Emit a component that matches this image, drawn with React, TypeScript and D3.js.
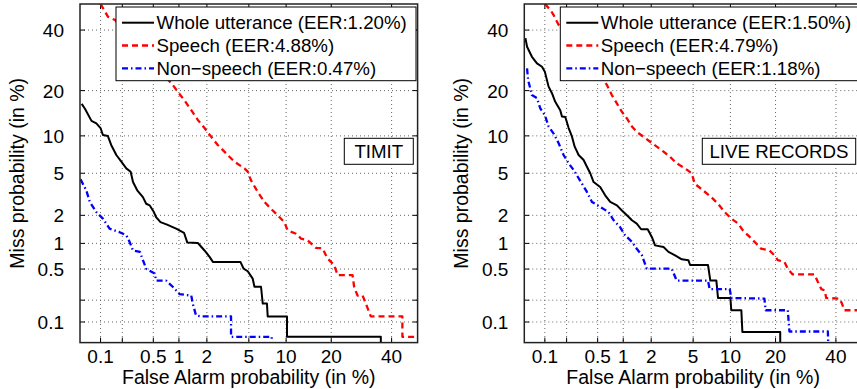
import React from "react";
import * as d3 from "d3";

// Axis ticks (percent)
const tickValues = [0.1, 0.2, 0.5, 1, 2, 5, 10, 20, 40];
const tickLabels = ["0.1", "", "0.5", "1", "2", "5", "10", "20", "40"];
const seriesNames = ["Whole utterance", "Speech", "Non\u2212speech"];
const timitEER = ["1.20", "4.88", "0.47"];
const liveEER = ["1.50", "4.79", "1.18"];

// [False alarm %, Miss %]
const timitWhole: number[][] = [
  [0.053, 16.6], [0.059, 15.5], [0.074, 12.8], [0.087, 12.3], [0.1, 11.4], [0.108, 10.15], [0.127, 9.97],
  [0.141, 8.54], [0.166, 7.11], [0.194, 6.27], [0.226, 5.51], [0.258, 5.16], [0.277, 4.18], [0.314, 3.51],
  [0.371, 3.03], [0.408, 2.61], [0.45, 2.52], [0.508, 2.16], [0.54, 1.92], [0.61, 1.7], [0.73, 1.6],
  [0.93, 1.45], [1.14, 1.31], [1.24, 1.02], [1.61, 1.01], [1.89, 0.83], [2.13, 0.7], [2.3, 0.61],
  [4.21, 0.61], [4.5, 0.505], [4.89, 0.47], [5.4, 0.38], [5.59, 0.3], [6.35, 0.3], [6.56, 0.18],
  [7.1, 0.18], [7.2, 0.12], [10.15, 0.12], [10.15, 0.061], [36, 0.061], [36, 0.04],
];
const timitSpeech: number[][] = [
  [0.1, 50], [0.112, 47.7], [0.127, 45.1], [0.16, 43.8], [0.85, 21.6], [0.97, 19.7], [1.15, 17.5],
  [1.37, 15.1], [1.61, 13.0], [1.89, 11.4], [2.21, 9.86], [2.57, 8.54], [3.09, 7.34], [3.71, 6.27],
  [4.57, 5.51], [4.89, 5.16], [5.22, 4.33], [5.96, 3.39], [6.77, 2.72], [7.65, 2.33], [8.63, 2.0],
  [9.7, 1.7], [10.26, 1.39], [11.8, 1.28], [12.8, 1.13], [14.2, 1.08], [16.1, 0.89], [17.7, 0.88],
  [19.0, 0.67], [20.8, 0.56], [21.8, 0.42], [26.3, 0.42], [26.8, 0.3], [27.9, 0.23], [29.6, 0.23],
  [30.7, 0.18], [32.4, 0.12], [44.1, 0.12], [44.1, 0.061], [50, 0.061],
];
const timitNonSpeech: number[][] = [
  [0.051, 4.42], [0.062, 3.51], [0.07, 2.72], [0.087, 2.16], [0.108, 1.85], [0.134, 1.45], [0.184, 1.33],
  [0.226, 1.23], [0.25, 1.04], [0.277, 0.83], [0.34, 0.8], [0.371, 0.64], [0.408, 0.505], [0.52, 0.44],
  [0.54, 0.36], [0.71, 0.36], [0.85, 0.3], [1.02, 0.24], [1.37, 0.23], [1.42, 0.18], [1.54, 0.124],
  [1.74, 0.12], [3.45, 0.12], [3.45, 0.061], [7.75, 0.061], [7.75, 0.052],
];
const liveWhole: number[][] = [
  [0.052, 37.0], [0.055, 33.9], [0.065, 30.4], [0.077, 28.2], [0.091, 27.1], [0.1, 25.5], [0.113, 21.1],
  [0.126, 19.3], [0.14, 17.1], [0.164, 15.1], [0.173, 13.7], [0.192, 13.6], [0.213, 11.4], [0.236, 9.86],
  [0.256, 8.28], [0.288, 7.11], [0.334, 6.47], [0.368, 5.69], [0.405, 5.0], [0.446, 4.18], [0.537, 3.77],
  [0.617, 3.15], [0.708, 2.72], [0.847, 2.52], [0.96, 2.25], [1.1, 2.0], [1.25, 1.78], [1.41, 1.64],
  [1.57, 1.43], [1.84, 1.43], [2.03, 1.18], [2.19, 0.95], [2.66, 0.91], [2.97, 0.8], [3.43, 0.73],
  [3.96, 0.655], [4.54, 0.64], [4.7, 0.56], [6.68, 0.56], [6.98, 0.36], [7.8, 0.36], [8.04, 0.214],
  [10.0, 0.214], [10.15, 0.146], [12.0, 0.146], [12.2, 0.072], [21.3, 0.072], [21.3, 0.04],
];
const liveSpeech: number[][] = [
  [0.1, 50], [0.12, 47.7], [0.133, 45.7], [0.156, 41.9], [0.59, 23.0], [0.646, 21.6], [0.74, 18.8],
  [0.847, 16.7], [0.96, 14.8], [1.1, 13.3], [1.25, 11.7], [1.41, 10.7], [1.66, 9.86], [1.95, 9.04],
  [2.28, 8.28], [2.66, 7.56], [3.07, 6.89], [3.55, 6.08], [4.24, 5.51], [4.86, 5.0], [5.16, 4.04],
  [6.07, 3.51], [7.11, 3.03], [8.04, 2.61], [9.04, 2.16], [10.15, 1.85], [11.4, 1.64], [12.3, 1.39],
  [13.7, 1.18], [15.2, 0.99], [16.3, 0.87], [18.4, 0.83], [19.7, 0.73], [20.6, 0.64], [22.5, 0.61],
  [23.5, 0.505], [25.0, 0.43], [32.2, 0.43], [33.4, 0.345], [34.6, 0.28], [35.8, 0.27], [36.4, 0.214],
  [41.3, 0.21], [42.3, 0.18], [43.2, 0.146], [50, 0.146],
];
const liveNonSpeech: number[][] = [
  [0.055, 26.6], [0.057, 23.0], [0.065, 18.8], [0.077, 18.0], [0.086, 15.5], [0.1, 14.0], [0.113, 11.7],
  [0.133, 10.4], [0.156, 8.8], [0.182, 7.11], [0.213, 6.08], [0.248, 5.33], [0.318, 4.04], [0.368, 3.39],
  [0.426, 2.72], [0.537, 2.43], [0.677, 2.16], [0.776, 1.78], [0.92, 1.51], [1.05, 1.23], [1.25, 1.04],
  [1.41, 0.87], [1.6, 0.73], [1.8, 0.505], [3.19, 0.505], [3.55, 0.36], [6.68, 0.36], [6.89, 0.28],
  [9.88, 0.28], [10.15, 0.214], [17.1, 0.21], [17.4, 0.146], [23.5, 0.146], [24.0, 0.073], [37.0, 0.073],
  [37.2, 0.04],
];

const colors = ["#000000", "#ff0000", "#0000ff"];
const dashes = ["none", "6,4", "6,3,1.5,3"];
const widths = [2, 2.3, 2.3];
const FONT = "'Liberation Sans', Arial, Helvetica, sans-serif";

function probit(p: number): number {
  const a = [-3.969683028665376e1, 2.209460984245205e2, -2.759285104469687e2, 1.38357751867269e2, -3.066479806614716e1, 2.506628277459239];
  const b = [-5.447609879822406e1, 1.615858368580409e2, -1.556989798598866e2, 6.680131188771972e1, -1.328068155288572e1];
  const c = [-7.784894002430293e-3, -3.223964580411365e-1, -2.400758277161838, -2.549732539343734, 4.374664141464968, 2.938163982698783];
  const d = [7.784695709041462e-3, 3.224671290700398e-1, 2.445134137142996, 3.754408661907416];
  const plow = 0.02425;
  if (p < plow) {
    const q = Math.sqrt(-2 * Math.log(p));
    return (((((c[0] * q + c[1]) * q + c[2]) * q + c[3]) * q + c[4]) * q + c[5]) / ((((d[0] * q + d[1]) * q + d[2]) * q + d[3]) * q + 1);
  }
  if (p <= 1 - plow) {
    const q = p - 0.5;
    const r = q * q;
    return ((((((a[0] * r + a[1]) * r + a[2]) * r + a[3]) * r + a[4]) * r + a[5]) * q) / (((((b[0] * r + b[1]) * r + b[2]) * r + b[3]) * r + b[4]) * r + 1);
  }
  const q = Math.sqrt(-2 * Math.log(1 - p));
  return -(((((c[0] * q + c[1]) * q + c[2]) * q + c[3]) * q + c[4]) * q + c[5]) / ((((d[0] * q + d[1]) * q + d[2]) * q + d[3]) * q + 1);
}

type PanelProps = {
  id: string;
  x0: number;
  curves: number[][][];
  eer: string[];
  tag: string;
  tagX: number;
  tagW: number;
};

function Panel({ id, x0, curves, eer, tag, tagX, tagW }: PanelProps) {
  const W = 337.6;
  const top = 4;
  const bottom = 342.6;
  const dom = [probit(0.0005), probit(0.5)];
  const xs = d3.scaleLinear().domain(dom).range([x0, x0 + W]);
  const ys = d3.scaleLinear().domain(dom).range([bottom, top]);
  const line = d3
    .line<number[]>()
    .x((d) => xs(probit(d[0] / 100)))
    .y((d) => ys(probit(d[1] / 100)));
  const tickFs = 19;
  const legX = x0 + 36;
  const legY = 7;
  return (
    <g>
      <defs>
        <clipPath id={id}>
          <rect x={x0} y={top} width={W} height={bottom - top} />
        </clipPath>
      </defs>
      <rect x={x0} y={top} width={W} height={bottom - top} fill="#fff" />
      {/* grid */}
      {tickValues.map((t, i) => (
        <g key={"g" + i}>
          <line x1={xs(probit(t / 100))} x2={xs(probit(t / 100))} y1={top} y2={bottom} stroke="#666" strokeWidth={1} strokeDasharray="1,3" />
          <line x1={x0} x2={x0 + W} y1={ys(probit(t / 100))} y2={ys(probit(t / 100))} stroke="#666" strokeWidth={1} strokeDasharray="1,3" />
          <line x1={xs(probit(t / 100))} x2={xs(probit(t / 100))} y1={bottom} y2={bottom - 5} stroke="#000" />
          <line x1={xs(probit(t / 100))} x2={xs(probit(t / 100))} y1={top} y2={top + 5} stroke="#000" />
          <line x1={x0} x2={x0 + 5} y1={ys(probit(t / 100))} y2={ys(probit(t / 100))} stroke="#000" />
          <line x1={x0 + W} x2={x0 + W - 5} y1={ys(probit(t / 100))} y2={ys(probit(t / 100))} stroke="#000" />
        </g>
      ))}
      {/* curves */}
      <g clipPath={`url(#${id})`}>
        {curves.map((c, i) => (
          <path key={"c" + i} d={line(c) || ""} fill="none" stroke={colors[i]} strokeWidth={widths[i]} strokeDasharray={dashes[i]} strokeLinejoin="round" />
        ))}
      </g>
      {/* box */}
      <rect x={x0} y={top} width={W} height={bottom - top} fill="none" stroke="#222" strokeWidth={1.5} />
      {/* tick labels */}
      {tickValues.map((t, i) =>
        tickLabels[i] ? (
          <g key={"l" + i}>
            <text x={xs(probit(t / 100))} y={363} textAnchor="middle" fontSize={tickFs} fontFamily={FONT}>
              {tickLabels[i]}
            </text>
            <text x={x0 - 16} y={ys(probit(t / 100)) + 7} textAnchor="end" fontSize={tickFs} fontFamily={FONT}>
              {tickLabels[i]}
            </text>
          </g>
        ) : null
      )}
      <text x={x0 + W / 2} y={384} textAnchor="middle" fontSize={19.5} fontFamily={FONT}>
        False Alarm probability (in %)
      </text>
      <text transform={`translate(${x0 - 56},${(top + bottom) / 2}) rotate(-90)`} textAnchor="middle" fontSize={19.5} fontFamily={FONT}>
        Miss probability (in %)
      </text>
      {/* legend */}
      <rect x={legX} y={legY} width={300} height={73.7} fill="#fff" stroke="#000" strokeWidth={1} />
      {seriesNames.map((n, i) => {
        const cy = legY + 15.7 + i * 22.8;
        return (
          <g key={"leg" + i}>
            <line x1={legX + 6} x2={legX + 38} y1={cy} y2={cy} stroke={colors[i]} strokeWidth={widths[i]} strokeDasharray={dashes[i]} />
            <text x={legX + 40.5} y={cy + 6.7} fontSize={18.7} fontFamily={FONT}>
              {`${n} (EER:${eer[i]}%)`}
            </text>
          </g>
        );
      })}
      {/* tag box */}
      <rect x={tagX} y={138.3} width={tagW} height={26} fill="#fff" stroke="#000" strokeWidth={1} />
      <text x={tagX + tagW / 2} y={158} textAnchor="middle" fontSize={18.7} fontFamily={FONT}>
        {tag}
      </text>
    </g>
  );
}

export default function App() {
  return (
    <svg
      width={857}
      height={389}
      style={{ position: "absolute", left: 0, top: 0, background: "#fff", overflow: "hidden" }}
    >
      <rect x={0} y={0} width={857} height={389} fill="#fff" />
      <Panel id="clipA" x0={80} curves={[timitWhole, timitSpeech, timitNonSpeech]} eer={timitEER} tag="TIMIT" tagX={344.3} tagW={69} />
      <Panel id="clipB" x0={524.3} curves={[liveWhole, liveSpeech, liveNonSpeech]} eer={liveEER} tag="LIVE RECORDS" tagX={702.3} tagW={153.4} />
    </svg>
  );
}
